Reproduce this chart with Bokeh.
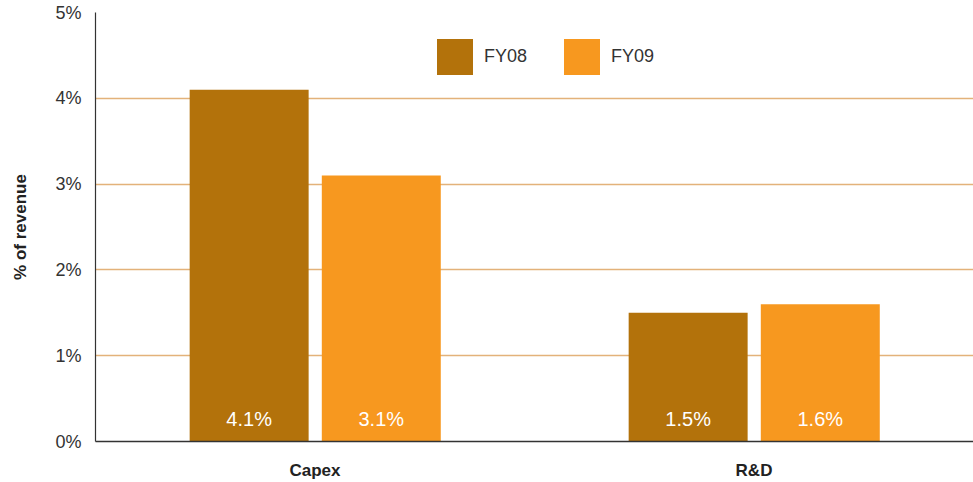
from bokeh.plotting import figure
from bokeh.models import ColumnDataSource, Legend, LegendItem, FactorRange, FixedTicker, CustomJSTickFormatter
from bokeh.transform import dodge
from bokeh.core.properties import value
from bokeh.embed import file_html
from bokeh.resources import INLINE

categories = ["Capex", "R&D"]
fy08 = [4.1, 1.5]
fy09 = [3.1, 1.6]
y_ticks = [0, 1, 2, 3, 4, 5]

c08 = "#B3720B"
c09 = "#F7981F"
FONT = "Liberation Sans"

src = ColumnDataSource(dict(
    cat=categories, fy08=fy08, fy09=fy09,
    l08=[f"{v:.1f}%" for v in fy08], l09=[f"{v:.1f}%" for v in fy09],
    zero=[0, 0],
))

p = figure(x_range=FactorRange(*categories, range_padding=0), y_range=(0, 5),
           width=973, height=482, output_backend="svg", toolbar_location=None,
           min_border_left=95, min_border_top=12, min_border_bottom=41, min_border_right=0)
p.outline_line_color = None

r1 = p.vbar(x=dodge("cat", -0.15, range=p.x_range), top="fy08", width=0.271, source=src,
            fill_color=c08, line_color=None)
r2 = p.vbar(x=dodge("cat", 0.151, range=p.x_range), top="fy09", width=0.271, source=src,
            fill_color=c09, line_color=None)

for off, col in [(-0.15, "l08"), (0.151, "l09")]:
    p.text(x=dodge("cat", off, range=p.x_range), y="zero", text=col, source=src,
           text_color="white", text_font=value(FONT), text_font_size="20px",
           text_align="center", text_baseline="middle", y_offset=-23)

p.yaxis.ticker = FixedTicker(ticks=y_ticks)
p.yaxis.formatter = CustomJSTickFormatter(code="return tick.toFixed(0) + '%';")
p.yaxis.axis_label = "% of revenue"
p.yaxis.axis_label_text_font = FONT
p.yaxis.axis_label_text_font_style = "bold"
p.yaxis.axis_label_text_font_size = "17px"
p.yaxis.axis_label_text_color = "#222222"
p.yaxis.axis_label_standoff = 22
p.yaxis.major_label_text_font = FONT
p.yaxis.major_label_text_font_size = "18px"
p.yaxis.major_label_text_color = "#333333"
p.yaxis.major_label_standoff = 14
p.yaxis.major_tick_line_color = None
p.yaxis.major_tick_out = 0
p.yaxis.major_tick_in = 0
p.yaxis.minor_tick_line_color = None
p.yaxis.axis_line_color = "#333333"
p.yaxis.axis_line_width = 1.2

p.xaxis.major_label_text_font = FONT
p.xaxis.major_label_text_font_style = "bold"
p.xaxis.major_label_text_font_size = "17px"
p.xaxis.major_label_text_color = "#222222"
p.xaxis.major_label_standoff = 19
p.xaxis.major_tick_line_color = None
p.xaxis.major_tick_out = 0
p.xaxis.major_tick_in = 0
p.xaxis.axis_line_color = "#333333"
p.xaxis.axis_line_width = 1.5

p.xgrid.grid_line_color = None
p.ygrid.grid_line_color = "#E3B27A"
p.ygrid.grid_line_width = 1.5

legend = Legend(items=[LegendItem(label="FY08", renderers=[r1]),
                       LegendItem(label="FY09", renderers=[r2])],
                orientation="horizontal", location=(337, 362),
                glyph_width=45, glyph_height=45, padding=0, margin=0,
                spacing=32, label_standoff=7,
                label_text_font=FONT, label_text_font_size="18px",
                label_text_color="#333333",
                border_line_color=None, background_fill_alpha=0)
p.add_layout(legend, "center")

open("out.html", "w").write(file_html(p, INLINE))
